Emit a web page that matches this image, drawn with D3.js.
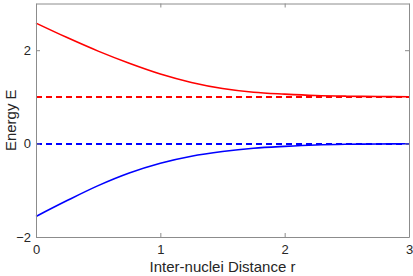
<!DOCTYPE html>
<html>
<head>
<meta charset="utf-8">
<script src="https://cdn.jsdelivr.net/npm/d3@7"></script>
<style>
  body { margin: 0; background: #fff; }
  text { font-family: "Liberation Sans", Arial, sans-serif; fill: #262626; }
</style>
</head>
<body>
<script>
const distance = [0, 0.25, 0.5, 0.75, 1, 1.25, 1.5, 1.75, 2, 2.25, 2.5, 2.75, 3]
const upperEnergy = [2.58, 2.27, 1.98, 1.72, 1.49, 1.31, 1.18, 1.10, 1.06, 1.03, 1.015, 1.007, 1.003]
const lowerEnergy = [-1.56, -1.22, -0.90, -0.63, -0.42, -0.27, -0.17, -0.10, -0.06, -0.03, -0.015, -0.007, -0.003]
const upperLimit = 1
const lowerLimit = 0
const xTicks = [0, 1, 2, 3]
const yTicks = [-2, 0, 2]

const width = 413, height = 276
const plotLeft = 36, plotRight = 409, plotTop = 3.5, plotBottom = 237

const svg = d3.select("body")
              .append("svg")
              .attr("width", width)
              .attr("height", height)

const x = d3.scaleLinear().domain([0, 3]).range([plotLeft, plotRight])
const y = d3.scaleLinear().domain([-2, 3]).range([plotBottom, plotTop])

const line = d3.line()
               .x(d => x(d[0]))
               .y(d => y(d[1]))
               .curve(d3.curveCatmullRom.alpha(0.5))

// dashed asymptotes, snapped to whole pixels so they stay bright
svg.append("line")
   .attr("x1", x(0)).attr("x2", x(3))
   .attr("y1", Math.round(y(upperLimit))).attr("y2", Math.round(y(upperLimit)))
   .attr("stroke", "#ff0000")
   .attr("stroke-width", 2)
   .attr("stroke-dasharray", "6,4")

svg.append("line")
   .attr("x1", x(0)).attr("x2", x(3))
   .attr("y1", Math.round(y(lowerLimit))).attr("y2", Math.round(y(lowerLimit)))
   .attr("stroke", "#0000ff")
   .attr("stroke-width", 2)
   .attr("stroke-dasharray", "6,4")

svg.append("path")
   .datum(distance.map((r, i) => [r, upperEnergy[i]]))
   .attr("d", line)
   .attr("fill", "none")
   .attr("stroke", "#ff0000")
   .attr("stroke-width", 1.6)

svg.append("path")
   .datum(distance.map((r, i) => [r, lowerEnergy[i]]))
   .attr("d", line)
   .attr("fill", "none")
   .attr("stroke", "#0000ff")
   .attr("stroke-width", 1.6)

// box with inner ticks on all sides
const axisColor = "#8c8c8c"
const tickLen = 4

const xAxisB = d3.axisBottom(x).tickValues(xTicks).tickSizeInner(-tickLen).tickSizeOuter(0).tickPadding(8).tickFormat(d3.format("d"))
const xAxisT = d3.axisTop(x).tickValues(xTicks).tickSizeInner(-tickLen).tickSizeOuter(0).tickFormat("")
const yAxisL = d3.axisLeft(y).tickValues(yTicks).tickSizeInner(-tickLen).tickSizeOuter(0).tickPadding(5).tickFormat(d3.format("d"))
const yAxisR = d3.axisRight(y).tickValues(yTicks).tickSizeInner(-tickLen).tickSizeOuter(0).tickFormat("")

const gb = svg.append("g").attr("transform", `translate(0,${plotBottom})`).call(xAxisB)
const gt = svg.append("g").attr("transform", `translate(0,${plotTop})`).call(xAxisT)
const gl = svg.append("g").attr("transform", `translate(${plotLeft},0)`).call(yAxisL)
const gr = svg.append("g").attr("transform", `translate(${plotRight},0)`).call(yAxisR)

;[gb, gt, gl, gr].forEach(g => {
  g.selectAll(".domain").attr("stroke", axisColor)
  g.selectAll(".tick line").attr("stroke", axisColor)
  g.selectAll(".tick text")
   .style("font-family", "'Liberation Sans', Arial, sans-serif")
   .style("font-size", "13px")
   .attr("fill", "#262626")
})

svg.append("text")
   .attr("x", (plotLeft + plotRight) / 2)
   .attr("y", 272)
   .attr("text-anchor", "middle")
   .style("font-size", "15px")
   .text("Inter-nuclei Distance r")

svg.append("text")
   .attr("transform", `translate(16,${(plotTop + plotBottom) / 2}) rotate(-90)`)
   .attr("text-anchor", "middle")
   .style("font-size", "15px")
   .text("Energy E")
</script>
</body>
</html>
